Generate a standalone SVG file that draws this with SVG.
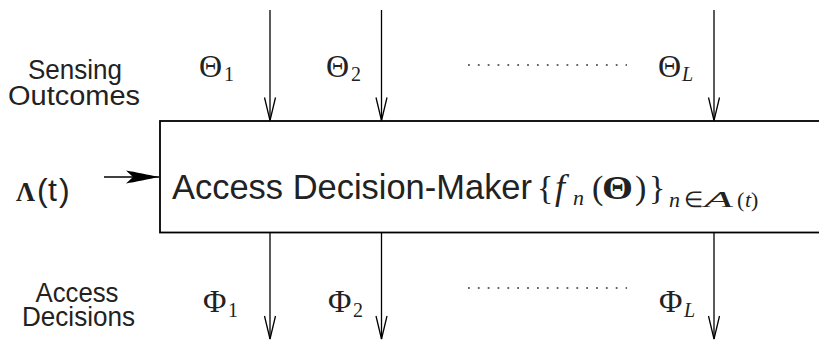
<svg xmlns="http://www.w3.org/2000/svg" width="819" height="340" viewBox="0 0 819 340">
<style>
.sans{font-family:"Liberation Sans",Arial,sans-serif;fill:#222}
.serif{font-family:"Liberation Serif","Times New Roman",serif;fill:#222}
.it{font-style:italic}
.bf{font-weight:bold}
.ln{stroke:#000;stroke-width:1.3;fill:none}
.box{stroke:#000;stroke-width:1.8;fill:#fff}
.dots{stroke:#333;stroke-width:1.6;stroke-dasharray:1.8 8.05;fill:none}
</style>
<defs>
<marker id="vee" markerUnits="userSpaceOnUse" orient="auto" markerWidth="30" markerHeight="16" refX="0" refY="0" viewBox="-26 -8 30 16" overflow="visible">
<path d="M-23,-5.5 L0,0 L-23,5.5" fill="none" stroke="#000" stroke-width="1.3"/>
</marker>
<marker id="stealth" markerUnits="userSpaceOnUse" orient="auto" markerWidth="36" markerHeight="16" refX="0" refY="0" viewBox="-35 -8 36 16" overflow="visible">
<path d="M0,0 C-10,-2 -24,-5 -33,-6.5 L-26,0 L-33,6.5 C-24,5 -10,2 0,0 Z" fill="#000"/>
</marker>
</defs>

<g id="labels-left">
<text class="sans" font-size="27" text-anchor="middle" x="75" y="79" textLength="94" lengthAdjust="spacingAndGlyphs">Sensing</text>
<text class="sans" font-size="27" text-anchor="middle" x="74" y="105" textLength="132" lengthAdjust="spacingAndGlyphs">Outcomes</text>
<text class="sans" font-size="27" text-anchor="middle" x="77" y="302" textLength="83" lengthAdjust="spacingAndGlyphs">Access</text>
<text class="sans" font-size="27" text-anchor="middle" x="78.5" y="326" textLength="113" lengthAdjust="spacingAndGlyphs">Decisions</text>
</g>

<g id="input-lambda">
<text class="serif bf" font-size="28" x="16" y="201" textLength="19" lengthAdjust="spacingAndGlyphs">Λ</text>
<text class="sans" font-size="32" y="201"><tspan x="37">(</tspan><tspan x="48">t</tspan><tspan x="59">)</tspan></text>
</g>

<g id="decision-maker">
<rect class="box" x="160" y="121" width="680" height="111.5"/>
<text class="sans" font-size="35" x="172" y="199" textLength="360" lengthAdjust="spacingAndGlyphs">Access Decision-Maker</text>
<text class="serif" font-size="34" x="537" y="199">{</text>
<text class="serif it" font-size="36" x="555" y="199">f</text>
<text class="serif it" font-size="22" x="573" y="205">n</text>
<text class="serif" font-size="34" x="592" y="199">(</text>
<text class="serif bf" font-size="34" x="602" y="199" textLength="31" lengthAdjust="spacingAndGlyphs">Θ</text>
<text class="serif" font-size="34" x="635" y="199">)</text>
<text class="serif" font-size="34" x="649" y="199">}</text>
<text class="serif it" font-size="22" x="669" y="207">n</text>
<text class="serif" font-size="22" x="684" y="207">∈</text>
<text class="serif it" font-size="24" x="704" y="207" textLength="29" lengthAdjust="spacingAndGlyphs">A</text>
<text class="serif" font-size="22" x="737" y="207">(</text>
<text class="serif it" font-size="22" x="745" y="207">t</text>
<text class="serif" font-size="22" x="751" y="207">)</text>
</g>

<g id="inputs-theta">
<text class="serif" font-size="32" x="199" y="77">Θ</text>
<text class="serif" font-size="20" x="224" y="81">1</text>
<text class="serif" font-size="32" x="326" y="77">Θ</text>
<text class="serif" font-size="20" x="351" y="81">2</text>
<text class="serif" font-size="32" x="658" y="77">Θ</text>
<text class="serif it" font-size="20" x="682" y="81">L</text>
</g>

<g id="outputs-phi">
<text class="serif" font-size="32" x="203" y="312">Φ</text>
<text class="serif" font-size="20" x="228" y="317">1</text>
<text class="serif" font-size="32" x="328" y="312">Φ</text>
<text class="serif" font-size="20" x="353" y="317">2</text>
<text class="serif" font-size="32" x="659" y="312">Φ</text>
<text class="serif it" font-size="20" x="684" y="317">L</text>
</g>

<g id="connectors">
<line class="ln" x1="270" y1="10" x2="270" y2="120.5" marker-end="url(#vee)"/>
<line class="ln" x1="381.5" y1="10" x2="381.5" y2="120.5" marker-end="url(#vee)"/>
<line class="ln" x1="714" y1="10" x2="714" y2="120.5" marker-end="url(#vee)"/>
<line class="ln" x1="270" y1="233" x2="270" y2="339" marker-end="url(#vee)"/>
<line class="ln" x1="381.5" y1="233" x2="381.5" y2="339" marker-end="url(#vee)"/>
<line class="ln" x1="714" y1="233" x2="714" y2="339" marker-end="url(#vee)"/>
<line class="ln" x1="104" y1="177" x2="159" y2="177" marker-end="url(#stealth)"/>
<line class="dots" x1="468" y1="65" x2="627" y2="65"/>
<line class="dots" x1="468" y1="288" x2="627" y2="288"/>
</g>
</svg>
